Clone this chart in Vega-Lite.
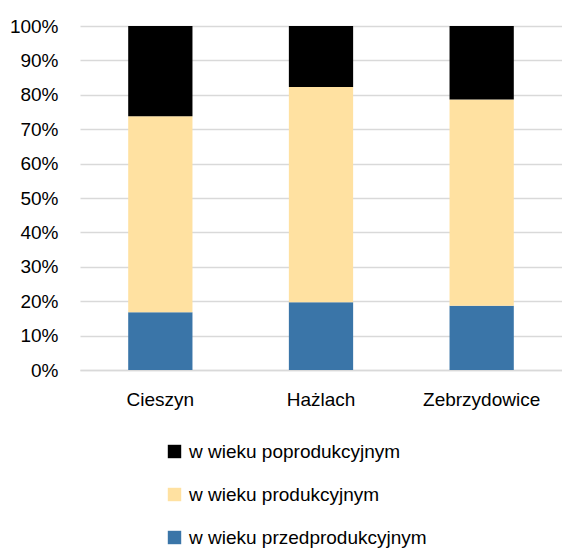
{
  "$schema": "https://vega.github.io/schema/vega-lite/v6.json",
  "autosize": "none",
  "padding": {"left": 80, "top": 26, "right": 0, "bottom": 178},
  "width": 482,
  "height": 344,
  "background": "white",
  "data": {"values": [
    {"gmina": "Cieszyn", "grupa": "w wieku przedprodukcyjnym", "o": 3, "v": 16.8},
    {"gmina": "Cieszyn", "grupa": "w wieku produkcyjnym", "o": 2, "v": 57.0},
    {"gmina": "Cieszyn", "grupa": "w wieku poprodukcyjnym", "o": 1, "v": 26.2},
    {"gmina": "Hażlach", "grupa": "w wieku przedprodukcyjnym", "o": 3, "v": 19.7},
    {"gmina": "Hażlach", "grupa": "w wieku produkcyjnym", "o": 2, "v": 62.6},
    {"gmina": "Hażlach", "grupa": "w wieku poprodukcyjnym", "o": 1, "v": 17.7},
    {"gmina": "Zebrzydowice", "grupa": "w wieku przedprodukcyjnym", "o": 3, "v": 18.7},
    {"gmina": "Zebrzydowice", "grupa": "w wieku produkcyjnym", "o": 2, "v": 59.9},
    {"gmina": "Zebrzydowice", "grupa": "w wieku poprodukcyjnym", "o": 1, "v": 21.4}
  ]},
  "mark": {"type": "bar"},
  "encoding": {
    "x": {"field": "gmina", "type": "nominal", "sort": null,
      "scale": {"paddingInner": 0.6, "paddingOuter": 0.3},
      "axis": {"title": null, "labelAngle": 0, "ticks": false, "labelPadding": 20, "labelFontSize": 19, "labelFont": "Liberation Sans", "labelColor": "#000", "domainColor": "#d9d9d9", "domainWidth": 1.5}},
    "y": {"field": "v", "type": "quantitative", "stack": "normalize",
      "scale": {"domain": [0, 1], "nice": false},
      "axis": {"title": null, "format": ".0%", "values": [0,0.1,0.2,0.3,0.4,0.5,0.6,0.7,0.8,0.9,1], "labelOverlap": false, "ticks": false, "domain": false, "labelPadding": 22, "labelFontSize": 19, "labelFont": "Liberation Sans", "labelColor": "#000", "gridColor": "#d9d9d9", "gridWidth": 1.5}},
    "color": {"field": "grupa", "type": "nominal",
      "scale": {"domain": ["w wieku poprodukcyjnym", "w wieku produkcyjnym", "w wieku przedprodukcyjnym"], "range": ["#000000", "#FFE1A1", "#3A75A8"]},
      "legend": {"title": null, "orient": "none", "legendX": 85, "legendY": 416, "symbolType": "square", "symbolSize": 180, "symbolStrokeWidth": 0, "symbolOpacity": 1, "labelFontSize": 19, "labelFont": "Liberation Sans", "labelColor": "#000", "rowPadding": 23, "labelOffset": 5, "labelLimit": 400}},
    "order": {"field": "o", "type": "quantitative", "sort": "descending"}
  },
  "config": {"view": {"stroke": null}}
}
